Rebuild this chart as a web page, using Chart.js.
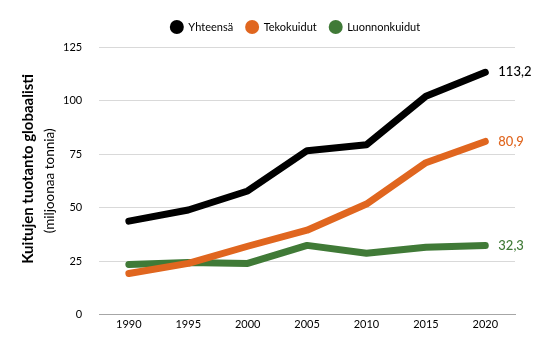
<!DOCTYPE html>
<html><head><meta charset="utf-8">
<script src="https://cdn.jsdelivr.net/npm/chart.js@4"></script>
<style>html,body{margin:0;padding:0;background:#fff}#w{width:556px;height:350px}</style>
</head><body><div id="w"><canvas id="c"></canvas></div>
<script>
const years = ['1990','1995','2000','2005','2010','2015','2020'];
const yhteensa = [43.7, 48.9, 57.8, 76.6, 79.4, 102.0, 113.2];
const tekokuidut = [19.3, 24.0, 32.0, 39.5, 51.7, 71.0, 80.9];
const luonnonkuidut = [23.5, 24.4, 24.0, 32.4, 28.7, 31.5, 32.3];
const endLabels = ['113,2', '80,9', '32,3'];
const yTicks = [0, 25, 50, 75, 100, 125];
const yTitle = 'Kuitujen tuotanto globaalisti';
const ySubtitle = '(miljoonaa tonnia)';
const FONT = 'Lato, "Open Sans", sans-serif';

function rotText(ctx, text, x, y, font) {
  ctx.save();
  ctx.font = font;
  ctx.fillStyle = '#000';
  ctx.translate(x, y);
  ctx.rotate(-Math.PI / 2);
  ctx.textAlign = 'center';
  ctx.textBaseline = 'middle';
  ctx.fillText(text, 0, 0);
  ctx.restore();
}

const extrasPlugin = {
  id: 'extras',
  afterDatasetsDraw(chart) {
    const ctx = chart.ctx;
    ctx.save();
    // end-of-line value labels
    chart.data.datasets.forEach((ds, i) => {
      const meta = chart.getDatasetMeta(i);
      const pt = meta.data[meta.data.length - 1];
      ctx.font = '500 13px ' + FONT;
      ctx.fillStyle = ds.borderColor;
      ctx.textAlign = 'left';
      ctx.textBaseline = 'middle';
      ctx.fillText(endLabels[i], pt.x + 13, pt.y);
    });
    // custom legend
    const r = 7, gapText = 11.5, gapItem = 19, cy = 27;
    ctx.font = '11px ' + FONT;
    const widths = chart.data.datasets.map(ds => ctx.measureText(ds.label).width);
    const total = r + widths.reduce((a, w) => a + gapText + w, 0) + gapItem * (widths.length - 1);
    let cx = 295 - total / 2 + r;
    chart.data.datasets.forEach((ds, i) => {
      ctx.beginPath();
      ctx.arc(cx, cy, r, 0, Math.PI * 2);
      ctx.fillStyle = ds.borderColor;
      ctx.fill();
      ctx.fillStyle = '#000';
      ctx.textAlign = 'left';
      ctx.textBaseline = 'middle';
      ctx.fillText(ds.label, cx + gapText, cy + 0.5);
      cx += gapText + widths[i] + gapItem;
    });
    ctx.restore();
    // y-axis titles
    const ys = chart.scales.y;
    const mid = (ys.top + ys.bottom) / 2;
    rotText(ctx, yTitle, 28, mid - 12, 'bold 15px ' + FONT);
    rotText(ctx, ySubtitle, 50, mid, '13.5px ' + FONT);
  }
};

new Chart(document.getElementById('c'), {
  type: 'line',
  data: {
    labels: years,
    datasets: [
      {label: 'Yhteensä', data: yhteensa, borderColor: '#000000', backgroundColor: '#000000'},
      {label: 'Tekokuidut', data: tekokuidut, borderColor: '#e0661f', backgroundColor: '#e0661f'},
      {label: 'Luonnonkuidut', data: luonnonkuidut, borderColor: '#407a37', backgroundColor: '#407a37'}
    ]
  },
  options: {
    responsive: true,
    maintainAspectRatio: false,
    animation: false,
    layout: {padding: {left: 46, right: 41, top: 47, bottom: 16}},
    elements: {
      line: {borderWidth: 7, tension: 0, borderCapStyle: 'round', borderJoinStyle: 'round'},
      point: {radius: 0, hoverRadius: 0}
    },
    plugins: {
      legend: {display: false},
      tooltip: {enabled: false}
    },
    scales: {
      x: {
        offset: true,
        grid: {display: false, drawTicks: false},
        border: {display: true, color: '#a6a6a6', width: 1},
        ticks: {color: '#000', font: {family: FONT, size: 11}, padding: 3}
      },
      y: {
        min: 0, max: 125,
        afterBuildTicks(scale) { scale.ticks = yTicks.map(v => ({value: v})); },
        grid: {color: '#d9d9d9', drawTicks: false},
        border: {display: false},
        ticks: {color: '#000', font: {family: FONT, size: 11}, padding: 17}
      }
    }
  },
  plugins: [extrasPlugin]
});
</script></body></html>
